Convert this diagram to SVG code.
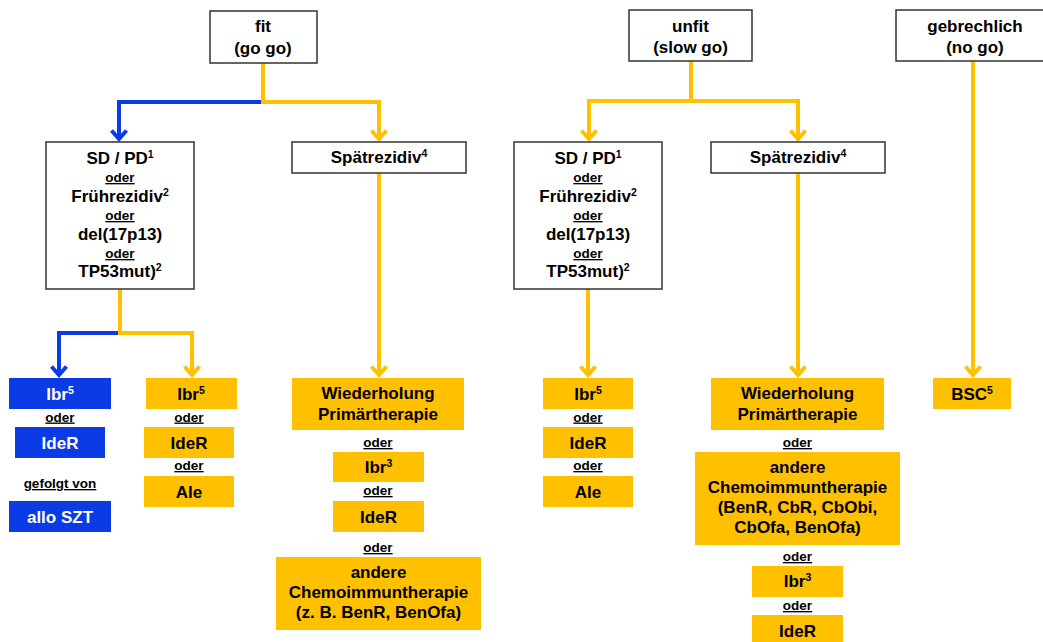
<svg xmlns="http://www.w3.org/2000/svg" width="1043" height="642" viewBox="0 0 1043 642">
<style>
text{font-family:"Liberation Sans",Arial,sans-serif;font-weight:bold;text-anchor:middle;fill:#000}
.t{font-size:17px}
.o{font-size:13.5px;text-decoration:underline}
.w{fill:#fff}
.sup{font-size:10.5px}
.frame{fill:#fff;stroke:#333;stroke-width:1.5}
.y{fill:#FFC000}
.b{fill:#0B3BE5}
.cy{fill:none;stroke:#FFC000;stroke-width:4}
.cb{fill:none;stroke:#0B3BE5;stroke-width:4}
</style>
<defs>
<marker id="ay" markerUnits="userSpaceOnUse" viewBox="-12 -10 16 20" markerWidth="16" markerHeight="20" refX="0" refY="0" orient="auto" overflow="visible">
<path d="M-8.5,-7.5 L0,0 L-8.5,7.5" fill="none" stroke="#FFC000" stroke-width="4"/>
</marker>
<marker id="ab" markerUnits="userSpaceOnUse" viewBox="-12 -10 16 20" markerWidth="16" markerHeight="20" refX="0" refY="0" orient="auto" overflow="visible">
<path d="M-8.5,-7.5 L0,0 L-8.5,7.5" fill="none" stroke="#0B3BE5" stroke-width="4"/>
</marker>
</defs>

<g id="connectors">
<path class="cb" d="M263,102 H119 V139" marker-end="url(#ab)"/>
<path class="cy" d="M263,63 V102 H379 V139" marker-end="url(#ay)"/>
<path class="cb" d="M120,333 H59 V375" marker-end="url(#ab)"/>
<path class="cy" d="M120,289 V333 H192 V375" marker-end="url(#ay)"/>
<path class="cy" d="M379,173 V375" marker-end="url(#ay)"/>
<path class="cy" d="M691,61 V101 H589 V139" marker-end="url(#ay)"/>
<path class="cy" d="M691,101 H798 V139" marker-end="url(#ay)"/>
<path class="cy" d="M588,289 V375" marker-end="url(#ay)"/>
<path class="cy" d="M798,173 V375" marker-end="url(#ay)"/>
<path class="cy" d="M973,61 V375" marker-end="url(#ay)"/>
</g>

<g id="fit">
<rect class="frame" x="210" y="11" width="107" height="52"/>
<text class="t" x="263" y="32">fit</text>
<text class="t" x="263" y="54">(go go)</text>
</g>
<g id="unfit">
<rect class="frame" x="629" y="10" width="123" height="51"/>
<text class="t" x="690.5" y="32">unfit</text>
<text class="t" x="690.5" y="53">(slow go)</text>
</g>
<g id="gebrechlich">
<rect class="frame" x="896" y="10" width="154" height="51"/>
<text class="t" x="975" y="32">gebrechlich</text>
<text class="t" x="975" y="53">(no go)</text>
</g>

<g id="sdpd-left">
<rect class="frame" x="46" y="142" width="148" height="147"/>
<text class="t" x="120" y="164">SD / PD<tspan class="sup" dy="-6">1</tspan></text>
<text class="o" x="120" y="182">oder</text>
<text class="t" x="120" y="202">Frührezidiv<tspan class="sup" dy="-6">2</tspan></text>
<text class="o" x="120" y="220">oder</text>
<text class="t" x="120" y="240">del(17p13)</text>
<text class="o" x="120" y="258">oder</text>
<text class="t" x="120" y="277">TP53mut)<tspan class="sup" dy="-6">2</tspan></text>
</g>
<g id="spaet-left">
<rect class="frame" x="292" y="142" width="174" height="31"/>
<text class="t" x="379" y="163">Spätrezidiv<tspan class="sup" dy="-6">4</tspan></text>
</g>
<g id="sdpd-right">
<rect class="frame" x="514" y="142" width="148" height="147"/>
<text class="t" x="588" y="164">SD / PD<tspan class="sup" dy="-6">1</tspan></text>
<text class="o" x="588" y="182">oder</text>
<text class="t" x="588" y="202">Frührezidiv<tspan class="sup" dy="-6">2</tspan></text>
<text class="o" x="588" y="220">oder</text>
<text class="t" x="588" y="240">del(17p13)</text>
<text class="o" x="588" y="258">oder</text>
<text class="t" x="588" y="277">TP53mut)<tspan class="sup" dy="-6">2</tspan></text>
</g>
<g id="spaet-right">
<rect class="frame" x="711" y="142" width="174" height="31"/>
<text class="t" x="798" y="163">Spätrezidiv<tspan class="sup" dy="-6">4</tspan></text>
</g>

<g id="blue-column">
<rect class="b" x="9" y="378" width="102" height="31"/>
<text class="t w" x="60" y="399.5">Ibr<tspan class="sup" dy="-6">5</tspan></text>
<text class="o" x="60" y="421.5">oder</text>
<rect class="b" x="15" y="427" width="90" height="31"/>
<text class="t w" x="60" y="448.5">IdeR</text>
<text class="o" x="60" y="488">gefolgt von</text>
<rect class="b" x="9" y="501" width="102" height="31"/>
<text class="t w" x="60" y="522.5">allo SZT</text>
</g>

<g id="yellow-column-left">
<rect class="y" x="146" y="378" width="91" height="31"/>
<text class="t" x="191" y="399.5">Ibr<tspan class="sup" dy="-6">5</tspan></text>
<text class="o" x="189" y="421.5">oder</text>
<rect class="y" x="144" y="427" width="90" height="31"/>
<text class="t" x="189" y="448.5">IdeR</text>
<text class="o" x="189" y="470">oder</text>
<rect class="y" x="144" y="476" width="90" height="31"/>
<text class="t" x="189" y="497.5">Ale</text>
</g>

<g id="middle-left-column">
<rect class="y" x="292" y="378" width="172" height="52"/>
<text class="t" x="378" y="399">Wiederholung</text>
<text class="t" x="378" y="420">Primärtherapie</text>
<text class="o" x="378" y="447">oder</text>
<rect class="y" x="333" y="452" width="91" height="30"/>
<text class="t" x="378.5" y="473">Ibr<tspan class="sup" dy="-6">3</tspan></text>
<text class="o" x="378" y="495">oder</text>
<rect class="y" x="333" y="501" width="91" height="31"/>
<text class="t" x="378.5" y="522.5">IdeR</text>
<text class="o" x="378" y="552">oder</text>
<rect class="y" x="276" y="557" width="205" height="73"/>
<text class="t" x="378.5" y="578">andere</text>
<text class="t" x="378.5" y="598">Chemoimmuntherapie</text>
<text class="t" x="378.5" y="618">(z. B. BenR, BenOfa)</text>
</g>

<g id="unfit-sdpd-column">
<rect class="y" x="543" y="378" width="90" height="31"/>
<text class="t" x="588" y="399.5">Ibr<tspan class="sup" dy="-6">5</tspan></text>
<text class="o" x="588" y="421.5">oder</text>
<rect class="y" x="543" y="427" width="90" height="31"/>
<text class="t" x="588" y="448.5">IdeR</text>
<text class="o" x="588" y="470">oder</text>
<rect class="y" x="543" y="476" width="90" height="31"/>
<text class="t" x="588" y="497.5">Ale</text>
</g>

<g id="unfit-spaet-column">
<rect class="y" x="711" y="378" width="173" height="52"/>
<text class="t" x="797.5" y="399">Wiederholung</text>
<text class="t" x="797.5" y="420">Primärtherapie</text>
<text class="o" x="797.5" y="447">oder</text>
<rect class="y" x="695" y="452" width="205" height="93"/>
<text class="t" x="797.5" y="473">andere</text>
<text class="t" x="797.5" y="493">Chemoimmuntherapie</text>
<text class="t" x="797.5" y="513">(BenR, CbR, CbObi,</text>
<text class="t" x="797.5" y="533">CbOfa, BenOfa)</text>
<text class="o" x="797.5" y="561">oder</text>
<rect class="y" x="752" y="566" width="91" height="31"/>
<text class="t" x="797.5" y="587">Ibr<tspan class="sup" dy="-6">3</tspan></text>
<text class="o" x="797.5" y="610">oder</text>
<rect class="y" x="752" y="615" width="91" height="31"/>
<text class="t" x="797.5" y="637">IdeR</text>
</g>

<g id="bsc">
<rect class="y" x="933" y="378" width="78" height="31"/>
<text class="t" x="972" y="399.5">BSC<tspan class="sup" dy="-6">5</tspan></text>
</g>
</svg>
